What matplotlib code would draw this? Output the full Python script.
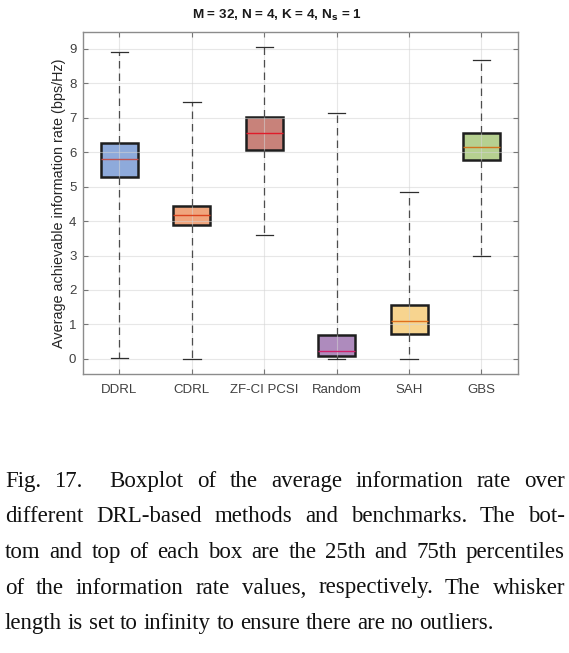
#!/usr/bin/env python3
"""Boxplot of average achievable information rate, with figure caption."""
import matplotlib
matplotlib.use("Agg")
import matplotlib.pyplot as plt

methods = ["DDRL", "CDRL", "ZF-CI PCSI", "Random", "SAH", "GBS"]
whisker_low = [0.02, 0.00, 3.61, 0.00, 0.00, 3.00]
q1 = [5.28, 3.88, 6.05, 0.09, 0.71, 5.77]
median = [5.79, 4.18, 6.55, 0.24, 1.10, 6.14]
q3 = [6.27, 4.43, 7.02, 0.70, 1.55, 6.56]
whisker_high = [8.91, 7.45, 9.05, 7.14, 4.85, 8.67]

face_colors = ["#8eaadb", "#f0a57d", "#c8827a", "#ae8bbd", "#f7d48f", "#b6d090"]
median_colors = ["#c0504d", "#d9431e", "#e01b2a", "#d0206a", "#e0701e", "#d0741e"]

caption_lines = [
    "Fig. 17.  Boxplot of the average information rate over",
    "different DRL-based methods and benchmarks. The bot-",
    "tom and top of each box are the 25th and 75th percentiles",
    "of the information rate values, respectively. The whisker",
    "length is set to infinity to ensure there are no outliers.",
]

W, H = 569, 653
fig = plt.figure(figsize=(W / 100, H / 100), dpi=100)
fig.patch.set_facecolor("white")
ax = fig.add_axes([83.3 / W, 1 - 374.3 / H, (517.7 - 83.3) / W, (374.3 - 31.7) / H])

stats = [
    {"label": m, "whislo": lo, "q1": a, "med": md, "q3": b, "whishi": hi, "fliers": []}
    for m, lo, a, md, b, hi in zip(methods, whisker_low, q1, median, q3, whisker_high)
]
bp = ax.bxp(
    stats, widths=0.51, capwidths=0.24, patch_artist=True, showfliers=False,
    boxprops={"edgecolor": "#1e1e1e", "linewidth": 1.8, "zorder": 2},
    whiskerprops={"color": "#4d4d4d", "linewidth": 0.9, "linestyle": (0, (6, 4)), "zorder": 3},
    capprops={"color": "#2e2e2e", "linewidth": 0.9, "zorder": 3},
    medianprops={"linewidth": 1.0, "zorder": 3},
)
for patch, fc in zip(bp["boxes"], face_colors):
    patch.set_facecolor(fc)
for line, mc in zip(bp["medians"], median_colors):
    line.set_color(mc)

ax.set_xlim(0.5, 6.5)
ax.set_ylim(-0.45, 9.5)
ax.set_yticks(range(10))
ax.set_axisbelow(False)
ax.grid(True, color="#d4d4d4", alpha=0.55, linewidth=0.8)
ax.tick_params(direction="in", length=3.5, width=0.8, color="#777777",
               top=True, right=True, labelsize=9.5, labelcolor="#404040", pad=5)
ax.tick_params(axis="x", pad=7)
for s in ax.spines.values():
    s.set_color("#8c8c8c")
    s.set_linewidth(1.0)
for lab in ax.get_xticklabels() + ax.get_yticklabels():
    lab.set_family("Liberation Sans")

ax.set_ylabel("Average achievable information rate (bps/Hz)", fontsize=10.4,
              color="#262626", family="Liberation Sans", labelpad=2)
fig.text(277 / W, 1 - 15 / H, r"M = 32, N = 4, K = 4, N$_\mathbf{s}$ = 1",
         fontsize=9.7, fontweight="bold", color="#1a1a1a", family="Liberation Sans",
         ha="center", va="center")

# caption, justified between the page margins (a double space gives a double gap)
renderer = fig.canvas.get_renderer()
left_px, right_px = 5.0, 565.0
baseline_px = 487.0
line_step = 35.5
cap_font = {"family": "Liberation Serif", "fontsize": 16.5, "color": "#111111"}
probe_a = fig.text(0, 0, "a b", **cap_font)
probe_b = fig.text(0, 0, "ab", **cap_font)
space = probe_a.get_window_extent(renderer).width - probe_b.get_window_extent(renderer).width
probe_a.remove()
probe_b.remove()
for i, line in enumerate(caption_lines):
    y = 1 - (baseline_px + i * line_step) / H
    words = line.split(" ")
    texts = [fig.text(0, y, w, va="baseline", ha="left", **cap_font) for w in words]
    widths = [t.get_window_extent(renderer).width if w else 0.0
              for t, w in zip(texts, words)]
    if i == len(caption_lines) - 1:
        gap = space
    else:
        gap = (right_px - left_px - sum(widths)) / (len(words) - 1)
    x = left_px
    for t, w in zip(texts, widths):
        t.set_x(x / W)
        x += w + gap

fig.savefig("out.png", dpi=100, facecolor="white")
